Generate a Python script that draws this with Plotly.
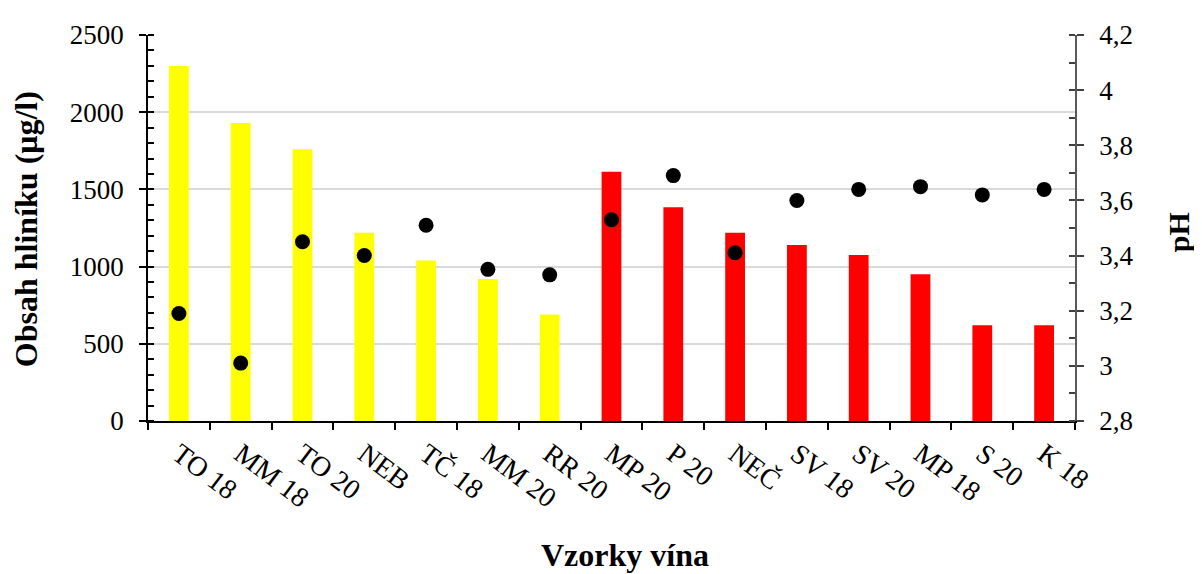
import plotly.graph_objects as go

categories = ["TO 18", "MM 18", "TO 20", "NEB", "TČ 18", "MM 20", "RR 20",
              "MP 20", "P 20", "NEČ", "SV 18", "SV 20", "MP 18", "S 20", "K 18"]
aluminium = [2300, 1930, 1760, 1220, 1040, 920, 690,
             1615, 1385, 1220, 1140, 1075, 950, 620, 620]
ph = [3.19, 3.01, 3.45, 3.40, 3.51, 3.35, 3.33,
      3.53, 3.69, 3.41, 3.60, 3.64, 3.65, 3.62, 3.64]
bar_colors = ["#FFFF00"] * 7 + ["#FF0000"] * 8

FONT = "Liberation Serif, Times New Roman, serif"

fig = go.Figure()
fig.add_trace(go.Bar(x=categories, y=aluminium, marker=dict(color=bar_colors, line=dict(width=0)),
                     yaxis="y", showlegend=False))
fig.add_trace(go.Scatter(x=categories, y=ph, mode="markers", yaxis="y2",
                         marker=dict(color="black", size=15), showlegend=False))

fig.update_layout(
    width=1194, height=566,
    margin=dict(l=140, r=127, t=20, b=153),
    paper_bgcolor="white", plot_bgcolor="white",
    separators=", ",
    font=dict(family=FONT, size=27, color="black"),
    bargap=0.68,
    xaxis=dict(
        type="category", tickson="boundaries", ticks="outside", ticklen=7,
        tickcolor="black", tickwidth=1.5,
        showline=True, linecolor="black", linewidth=1.5,
        tickangle=37, tickfont=dict(size=28, family=FONT), ticklabelstandoff=4,
        showgrid=False, range=[-0.5, 14.5],
    ),
    yaxis=dict(
        range=[0, 2500], dtick=500, tick0=0,
        ticks="outside", ticklen=7, tickcolor="black", tickwidth=1.5,
        showline=True, linecolor="black", linewidth=1.5,
        showgrid=True, gridcolor="#d9d9d9", gridwidth=1.5,
        minor=dict(dtick=100, ticks="inside", ticklen=6, tickcolor="black", tickwidth=1.5, showgrid=False),
        tickfont=dict(size=27, family=FONT), ticklabelstandoff=10,
        zeroline=False,
    ),
    yaxis2=dict(
        range=[2.8, 4.2], dtick=0.2, tick0=2.8, overlaying="y", side="right",
        ticks="outside", ticklen=7, tickcolor="#404040", tickwidth=1.5,
        showline=True, linecolor="#595959", linewidth=1.5,
        showgrid=False,
        minor=dict(dtick=0.1, ticks="inside", ticklen=6, tickcolor="#404040", tickwidth=1.5, showgrid=False),
        tickfont=dict(size=27, family=FONT), ticklabelstandoff=10,
        zeroline=False,
    ),
    annotations=[
        dict(text="<b>Vzorky vína</b>", xref="paper", yref="paper", x=0.515, y=-0.346,
             xanchor="center", yanchor="middle", showarrow=False, font=dict(size=32, family=FONT)),
        dict(text="<b>Obsah hliníku (μg/l)</b>", xref="paper", yref="paper", x=-0.1316, y=0.497,
             xanchor="center", yanchor="middle", textangle=-90, showarrow=False,
             font=dict(size=32, family=FONT)),
        dict(text="<b>pH</b>", xref="paper", yref="paper", x=1.1125, y=0.49,
             xanchor="center", yanchor="middle", textangle=-90, showarrow=False,
             font=dict(size=30, family=FONT)),
    ],
)

fig.write_html("out.html")
